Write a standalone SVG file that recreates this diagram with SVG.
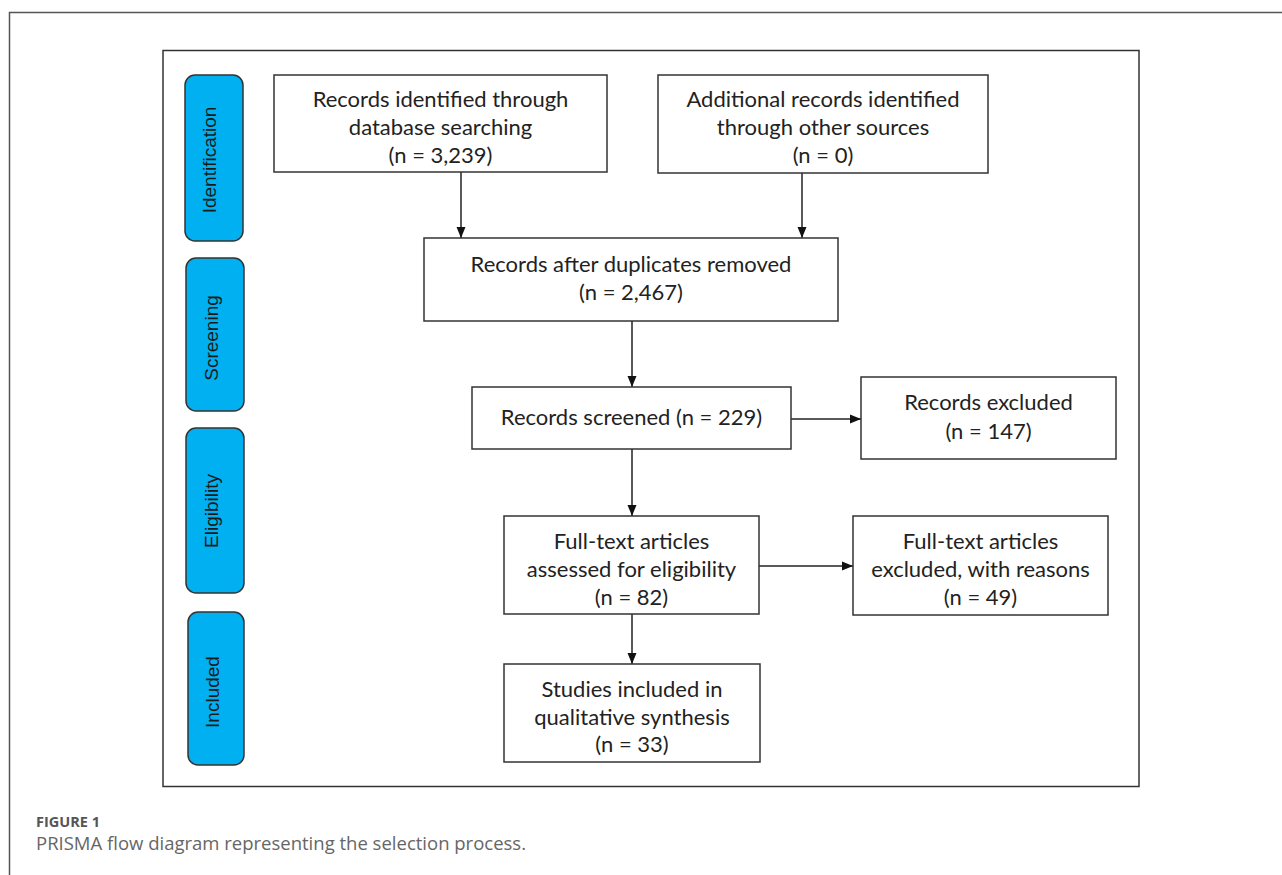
<svg xmlns="http://www.w3.org/2000/svg" width="1282" height="875" viewBox="0 0 1282 875">
<style>
.box{fill:#fff;stroke:#333;stroke-width:1.5}
.pill{fill:#00b0f0;stroke:#333;stroke-width:1.5}
.t{font-family:Lato,"Open Sans","Liberation Sans",sans-serif;font-size:22px;fill:#222;text-anchor:middle}
.pt{font-family:"Liberation Sans",Arial,sans-serif;font-size:19px;fill:#1a1a1a;text-anchor:middle;dominant-baseline:central}
.con{stroke:#222;stroke-width:1.5;fill:none;marker-end:url(#ah)}
</style>
<defs>
<marker id="ah" markerUnits="userSpaceOnUse" markerWidth="12" markerHeight="12" viewBox="0 0 12 12" refX="11" refY="6" orient="auto">
<path d="M0,1.5 L11,6 L0,10.5 Z" fill="#111"/>
</marker>
</defs>
<rect width="1282" height="875" fill="#fff"/>
<path d="M9.5,875 V12.5 H1282" fill="none" stroke="#555" stroke-width="1.5"/>
<rect x="163" y="50.5" width="976" height="736" fill="none" stroke="#333" stroke-width="1.5"/>

<g id="phase-identification"><rect class="pill" x="185" y="75" width="58" height="166" rx="10"/><text class="pt" transform="translate(209,160) rotate(-90)">Identification</text></g>
<g id="phase-screening"><rect class="pill" x="186" y="258" width="58" height="153" rx="10"/><text class="pt" transform="translate(211,338) rotate(-90)">Screening</text></g>
<g id="phase-eligibility"><rect class="pill" x="186" y="428" width="58" height="165" rx="10"/><text class="pt" transform="translate(211,511) rotate(-90)">Eligibility</text></g>
<g id="phase-included"><rect class="pill" x="188" y="612" width="56" height="153" rx="10"/><text class="pt" transform="translate(212,692) rotate(-90)">Included</text></g>

<g id="connectors">
<line class="con" x1="461" y1="172" x2="461" y2="238"/>
<line class="con" x1="802" y1="173" x2="802" y2="238"/>
<line class="con" x1="632" y1="321" x2="632" y2="387"/>
<line class="con" x1="632" y1="449" x2="632" y2="516"/>
<line class="con" x1="791" y1="419" x2="861" y2="419"/>
<line class="con" x1="759" y1="566" x2="853" y2="566"/>
<line class="con" x1="632" y1="614" x2="632" y2="664"/>
</g>

<g id="n-db"><rect class="box" x="274" y="75" width="333" height="97"/>
<text class="t" x="440.5" y="107">Records identified through</text>
<text class="t" x="440.5" y="135">database searching</text>
<text class="t" x="440.5" y="163">(n = 3,239)</text></g>

<g id="n-other"><rect class="box" x="658" y="75" width="330" height="98"/>
<text class="t" x="823" y="107">Additional records identified</text>
<text class="t" x="823" y="135">through other sources</text>
<text class="t" x="823" y="163">(n = 0)</text></g>

<g id="n-dup"><rect class="box" x="424" y="238" width="414" height="83"/>
<text class="t" x="631" y="272">Records after duplicates removed</text>
<text class="t" x="631" y="300">(n = 2,467)</text></g>

<g id="n-screened"><rect class="box" x="472" y="387" width="319" height="62"/>
<text class="t" x="631.5" y="425">Records screened (n = 229)</text></g>

<g id="n-excl"><rect class="box" x="861" y="377" width="255" height="82"/>
<text class="t" x="988.5" y="410">Records excluded</text>
<text class="t" x="988.5" y="439">(n = 147)</text></g>

<g id="n-full"><rect class="box" x="504" y="516" width="255" height="98"/>
<text class="t" x="631.5" y="549">Full-text articles</text>
<text class="t" x="631.5" y="577">assessed for eligibility</text>
<text class="t" x="631.5" y="605">(n = 82)</text></g>

<g id="n-fullexcl"><rect class="box" x="853" y="516" width="255" height="99"/>
<text class="t" x="980.5" y="549">Full-text articles</text>
<text class="t" x="980.5" y="577">excluded, with reasons</text>
<text class="t" x="980.5" y="605">(n = 49)</text></g>

<g id="n-incl"><rect class="box" x="504" y="664" width="256" height="98"/>
<text class="t" x="632" y="697">Studies included in</text>
<text class="t" x="632" y="725">qualitative synthesis</text>
<text class="t" x="632" y="752">(n = 33)</text></g>

<text x="36" y="827" font-family="'Open Sans','Liberation Sans',sans-serif" font-size="14.5" font-weight="bold" fill="#555">FIGURE 1</text>
<text x="36" y="850" font-family="'Open Sans','Liberation Sans',sans-serif" font-size="18.5" fill="#666">PRISMA flow diagram representing the selection process.</text>
</svg>
